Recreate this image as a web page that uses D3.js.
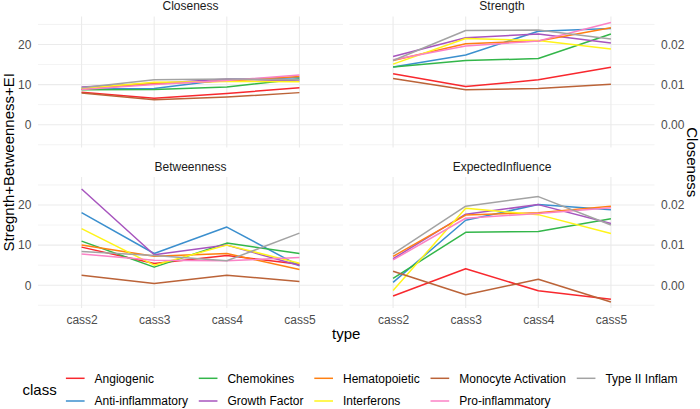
<!DOCTYPE html>
<html>
<head>
<meta charset="utf-8">
<script src="https://cdn.jsdelivr.net/npm/d3@7"></script>
<style>
  html, body { margin: 0; padding: 0; background: #fff; }
  svg { display: block; font-family: "Liberation Sans", Arial, Helvetica, sans-serif; }
</style>
</head>
<body>
<svg id="chart" width="700" height="409"></svg>
<script>
// ---------------- data ----------------
const categories = ["cass2", "cass3", "cass4", "cass5"];
const classes = ["Angiogenic", "Anti-inflammatory", "Chemokines", "Growth Factor",
  "Hematopoietic", "Interferons", "Monocyte Activation", "Pro-inflammatory", "Type II Inflam"];
const classColors = ["#F8282E", "#3B8FCE", "#33B64A", "#A755BE", "#FF8012",
  "#FFF41A", "#BB6338", "#FB82C6", "#A3A3A3"];
const panelNames = ["Closeness", "Strength", "Betweenness", "ExpectedInfluence"];

// values per class (rows follow `classes`), columns follow `categories`
const closeness = [
  [8.1, 6.6, 7.8, 9.2],
  [8.9, 9.0, 11.3, 11.7],
  [8.7, 8.8, 9.4, 11.4],
  [9.4, 10.3, 11.4, 10.9],
  [8.9, 10.2, 10.9, 12.0],
  [9.0, 10.6, 10.8, 10.7],
  [7.9, 6.2, 6.9, 8.0],
  [8.8, 10.0, 11.0, 12.4],
  [9.2, 11.2, 11.4, 11.2]
];
const strength = [
  [12.7, 9.5, 11.2, 14.3],
  [14.4, 17.4, 23.3, 24.0],
  [14.4, 16.0, 16.5, 22.6],
  [17.0, 21.7, 22.6, 20.4],
  [16.0, 20.2, 20.9, 24.2],
  [15.1, 21.5, 21.0, 18.9],
  [11.5, 8.7, 9.0, 10.1],
  [16.2, 19.6, 20.9, 25.5],
  [16.0, 23.5, 23.6, 21.4]
];
const betweenness = [
  [9.5, 5.4, 7.4, 5.2],
  [18.1, 7.9, 14.5, 4.8],
  [11.0, 4.5, 10.5, 7.9],
  [24.0, 7.6, 10.0, 4.9],
  [10.0, 7.2, 7.9, 3.9],
  [14.1, 5.0, 10.0, 5.5],
  [2.5, 0.4, 2.5, 0.9],
  [7.8, 6.2, 6.1, 6.9],
  [8.4, 7.4, 6.1, 13.0]
];
const expectedInfluence = [
  [-2.7, 4.1, -1.4, -3.5],
  [0.7, 16.2, 20.1, 18.8],
  [1.7, 13.2, 13.4, 16.6],
  [6.6, 17.7, 20.1, 15.4],
  [7.2, 17.5, 18.1, 19.7],
  [-1.3, 19.2, 17.6, 12.9],
  [3.5, -2.4, 1.5, -4.2],
  [6.3, 16.7, 17.9, 19.3],
  [7.8, 19.7, 22.1, 15.0]
];
const leftTicks = [0, 10, 20];
const rightTicks = [0.00, 0.01, 0.02];
const yTitle = "Stregnth+Betweenness+EI";
const y2Title = "Closeness";
const xTitle = "type";
const legendTitle = "class";

// ---------------- layout ----------------
const svg = d3.select("#chart");
const panelData = [closeness, strength, betweenness, expectedInfluence];
const colX = [[38, 343], [349.5, 654.5]];
const rowY = [[16.5, 147.5], [177, 308]];

const allVals = panelData.flat(2);
const vmin = d3.min(allVals), vmax = d3.max(allVals);
const pad = (vmax - vmin) * 0.05;
const yDomain = [vmin - pad, vmax + pad];

const gridColor = "#EBEBEB";
const lineW = 1.5;

panelNames.forEach((name, i) => {
  const c = i % 2, r = Math.floor(i / 2);
  const x = d3.scalePoint().domain(categories).range(colX[c]).padding(0.6);
  const y = d3.scaleLinear().domain(yDomain).range([rowY[r][1], rowY[r][0]]);
  const g = svg.append("g");

  // minor grid
  const minor = d3.range(Math.ceil(yDomain[0] / 5) * 5, yDomain[1], 10).filter(v => Math.abs(v % 10) === 5);
  g.selectAll(".minor").data(minor).join("line")
    .attr("x1", colX[c][0]).attr("x2", colX[c][1])
    .attr("y1", d => y(d)).attr("y2", d => y(d))
    .attr("stroke", gridColor).attr("stroke-width", 0.6);
  // major grid
  g.selectAll(".major").data(leftTicks).join("line")
    .attr("x1", colX[c][0]).attr("x2", colX[c][1])
    .attr("y1", d => y(d)).attr("y2", d => y(d))
    .attr("stroke", gridColor).attr("stroke-width", 1.1);
  g.selectAll(".vmajor").data(categories).join("line")
    .attr("x1", d => x(d)).attr("x2", d => x(d))
    .attr("y1", rowY[r][0]).attr("y2", rowY[r][1])
    .attr("stroke", gridColor).attr("stroke-width", 1.1);

  // lines
  const line = d3.line().x((d, j) => x(categories[j])).y(d => y(d));
  g.selectAll(".series").data(panelData[i]).join("path")
    .attr("d", d => line(d))
    .attr("fill", "none")
    .attr("stroke", (d, k) => classColors[k])
    .attr("stroke-width", lineW)
    .attr("stroke-linejoin", "round");

  // strip title
  svg.append("text")
    .attr("x", (colX[c][0] + colX[c][1]) / 2)
    .attr("y", rowY[r][0] - 6.5)
    .attr("text-anchor", "middle")
    .attr("font-size", 12).attr("fill", "#1A1A1A")
    .text(name);

  // axes
  if (c === 0) {
    const ax = svg.append("g").attr("transform", `translate(${colX[c][0]},0)`)
      .call(d3.axisLeft(y).tickValues(leftTicks).tickSize(0).tickPadding(6.6).tickFormat(d3.format("d")));
    ax.select(".domain").remove();
    ax.selectAll("text").attr("font-size", 12).attr("fill", "#4D4D4D").attr("font-family", null);
  } else {
    const y2 = d3.scaleLinear().domain(yDomain.map(v => v / 1000)).range(y.range());
    const ax = svg.append("g").attr("transform", `translate(${colX[c][1]},0)`)
      .call(d3.axisRight(y2).tickValues(rightTicks).tickSize(0).tickPadding(6.6).tickFormat(d3.format(".2f")));
    ax.select(".domain").remove();
    ax.selectAll("text").attr("font-size", 12).attr("fill", "#4D4D4D").attr("font-family", null);
  }
  if (r === 1) {
    const ax = svg.append("g").attr("transform", `translate(0,${rowY[r][1]})`)
      .call(d3.axisBottom(x).tickSize(0).tickPadding(7.3));
    ax.select(".domain").remove();
    ax.selectAll("text").attr("font-size", 12).attr("fill", "#4D4D4D").attr("font-family", null);
  }
});

// axis titles
const midY = (rowY[0][0] + rowY[1][1]) / 2;
svg.append("text")
  .attr("transform", `translate(13.5,${midY}) rotate(-90)`)
  .attr("text-anchor", "middle").attr("font-size", 15).attr("fill", "#000")
  .text(yTitle);
svg.append("text")
  .attr("transform", `translate(686.5,${midY}) rotate(90)`)
  .attr("text-anchor", "middle").attr("font-size", 15).attr("fill", "#000")
  .text(y2Title);
svg.append("text")
  .attr("x", (colX[0][0] + colX[1][1]) / 2).attr("y", 338.5)
  .attr("text-anchor", "middle").attr("font-size", 15).attr("fill", "#000")
  .text(xTitle);

// legend
const leg = svg.append("g");
const rowsY = [378.3, 401];
const title = leg.append("text").attr("x", 0).attr("y", (rowsY[0] + rowsY[1]) / 2 + 5.3)
  .attr("font-size", 15).attr("fill", "#000").text(legendTitle);
let cx = title.node().getComputedTextLength() + 9.2;
const nCols = Math.ceil(classes.length / 2);
for (let col = 0; col < nCols; col++) {
  let maxW = 0;
  for (let rr = 0; rr < 2; rr++) {
    const k = col * 2 + rr;
    if (k >= classes.length) break;
    leg.append("line")
      .attr("x1", cx).attr("x2", cx + 18.7)
      .attr("y1", rowsY[rr]).attr("y2", rowsY[rr])
      .attr("stroke", classColors[k]).attr("stroke-width", lineW);
    const t = leg.append("text")
      .attr("x", cx + 28.7).attr("y", rowsY[rr] + 4.3)
      .attr("font-size", 12).attr("fill", "#000")
      .text(classes[k]);
    maxW = Math.max(maxW, t.node().getComputedTextLength());
  }
  cx += 28.7 + maxW + 10.8;
}
const bb = leg.node().getBBox();
leg.attr("transform", `translate(${350 - (bb.x + bb.width / 2)},0)`);
</script>
</body>
</html>
